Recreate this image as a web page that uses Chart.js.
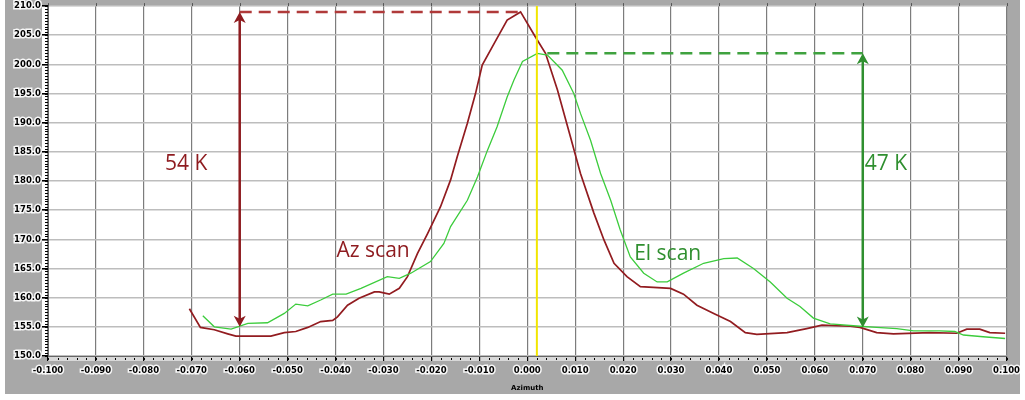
<!DOCTYPE html>
<html>
<head>
<meta charset="utf-8">
<script src="https://cdn.jsdelivr.net/npm/chart.js@4"></script>
<style>
  html, body { margin: 0; padding: 0; background: #fff; }
  canvas { display: block; }
</style>
</head>
<body>
<canvas id="Chart" width="1025" height="400"></canvas>
<script>
// azimuth scan (red)
const azX = [-0.0705, -0.0682, -0.0653, -0.0625, -0.0608, -0.0535, -0.0507, -0.0483, -0.0458, -0.0431,
  -0.0406, -0.0396, -0.0375, -0.0351, -0.0319, -0.0309, -0.0288, -0.0267, -0.0250, -0.0229,
  -0.0208, -0.0181, -0.0160, -0.0146, -0.0125, -0.0108, -0.0094, -0.0069, -0.0042, -0.0014,
  0.0017, 0.0038, 0.0063, 0.0090, 0.0111, 0.0139, 0.0160, 0.0181, 0.0208, 0.0236,
  0.0299, 0.0326, 0.0354, 0.0389, 0.0424, 0.0455, 0.0479, 0.0542, 0.0583, 0.0615,
  0.0674, 0.0694, 0.0729, 0.0764, 0.0840, 0.0896, 0.0917, 0.0944, 0.0965, 0.0997];
const azY = [158.1, 154.9, 154.5, 153.8, 153.4, 153.4, 154.0, 154.2, 154.9, 155.9,
  156.1, 156.7, 158.7, 159.9, 161.0, 161.0, 160.6, 161.6, 163.6, 167.6,
  171.0, 175.6, 180.2, 184.2, 189.9, 195.0, 199.9, 203.6, 207.6, 209.0,
  204.7, 201.9, 195.6, 187.6, 181.3, 174.5, 169.9, 165.9, 163.6, 161.9,
  161.6, 160.6, 158.7, 157.3, 155.9, 154.0, 153.7, 154.0, 154.7, 155.3,
  155.1, 154.9, 154.0, 153.8, 154.0, 153.9, 154.6, 154.6, 154.0, 153.9];

// elevation scan (green)
const elX = [-0.0677, -0.0653, -0.0618, -0.0583, -0.0542, -0.0507, -0.0483, -0.0458, -0.0431, -0.0406,
  -0.0378, -0.0347, -0.0292, -0.0267, -0.0243, -0.0202, -0.0174, -0.0160, -0.0125, -0.0104,
  -0.0083, -0.0063, -0.0042, -0.0028, -0.0010, 0.0021, 0.0042, 0.0073, 0.0097, 0.0111,
  0.0132, 0.0153, 0.0174, 0.0194, 0.0215, 0.0243, 0.0271, 0.0292, 0.0326, 0.0368,
  0.0410, 0.0438, 0.0472, 0.0507, 0.0542, 0.0569, 0.0597, 0.0632, 0.0694, 0.0729,
  0.0771, 0.0806, 0.0861, 0.0892, 0.0910, 0.0951, 0.0997];
const elY = [156.9, 155.0, 154.6, 155.6, 155.7, 157.3, 158.9, 158.6, 159.6, 160.6,
  160.6, 161.6, 163.6, 163.3, 164.2, 166.2, 169.3, 172.2, 176.7, 180.7,
  185.3, 189.3, 194.4, 197.3, 200.5, 201.9, 201.6, 199.0, 195.0, 191.6,
  187.0, 181.3, 176.7, 171.6, 167.0, 164.2, 162.7, 162.7, 164.2, 165.9,
  166.7, 166.8, 165.0, 162.7, 159.9, 158.5, 156.5, 155.5, 155.1, 154.9,
  154.7, 154.3, 154.3, 154.2, 153.6, 153.3, 153.0];

// peak-to-baseline spans written on the plot, in K
const azSpan = 54;
const elSpan = 47;
const azArrowX = -0.060;
const elArrowX = 0.070;
const boresightX = 0.002;

const azPeak = Math.max(...azY);
const azPeakX = azX[azY.indexOf(azPeak)];
const elPeak = Math.max(...elY);
const elPeakX = elX[elY.indexOf(elPeak)];

const RED = "#8e1b1f";
const GREEN = "#2f8f2f";

function toPoints(xs, ys) {
  return xs.map((x, i) => ({ x: x, y: ys[i] }));
}

function arrowHead(ctx, x, y, dir, color) {
  // dir = -1 points up, 1 points down
  ctx.save();
  ctx.fillStyle = color;
  ctx.beginPath();
  ctx.moveTo(x, y);
  ctx.lineTo(x - 6, y - dir * 11);
  ctx.lineTo(x, y - dir * 8);
  ctx.lineTo(x + 6, y - dir * 11);
  ctx.closePath();
  ctx.fill();
  ctx.restore();
}

function spanArrow(ctx, x, yTop, yBot, color) {
  ctx.save();
  ctx.strokeStyle = color;
  ctx.lineWidth = 2.5;
  ctx.beginPath();
  ctx.moveTo(x, yTop + 6);
  ctx.lineTo(x, yBot - 6);
  ctx.stroke();
  ctx.restore();
  arrowHead(ctx, x, yTop, -1, color);
  arrowHead(ctx, x, yBot, 1, color);
}

function dashLine(ctx, x1, x2, y, color) {
  ctx.save();
  ctx.strokeStyle = color;
  ctx.lineWidth = 2.5;
  ctx.setLineDash([12, 7]);
  ctx.beginPath();
  ctx.moveTo(x1, y);
  ctx.lineTo(x2, y);
  ctx.stroke();
  ctx.restore();
}

const frame = {
  id: "frame",
  beforeDraw(chart) {
    const ctx = chart.ctx;
    const a = chart.chartArea;
    ctx.save();
    ctx.fillStyle = "#a8a8a8";
    ctx.fillRect(5, 0, 1015, 394);
    ctx.fillStyle = "#ffffff";
    ctx.fillRect(a.left, a.top, a.right - a.left, a.bottom - a.top);
    ctx.fillRect(a.left - 6, a.top, 6, a.bottom - a.top + 1);
    ctx.fillStyle = "#d8d8d8";
    ctx.fillRect(a.left, a.bottom, a.right - a.left, 5);
    ctx.restore();
  },
  afterDraw(chart) {
    const ctx = chart.ctx;
    const a = chart.chartArea;
    const xs = chart.scales.x;
    const ys = chart.scales.y;
    ctx.save();
    ctx.strokeStyle = "#000";
    ctx.lineWidth = 1;
    // minor ticks on the value axis
    for (let v = 150; v <= 210; v += 0.5) {
      const py = Math.round(ys.getPixelForValue(v)) + 0.5;
      ctx.beginPath();
      ctx.moveTo(a.left - 3, py);
      ctx.lineTo(a.left, py);
      ctx.stroke();
    }
    // minor ticks along azimuth
    for (let i = 0; i <= 100; i++) {
      const px = Math.round(xs.getPixelForValue(-0.1 + i * 0.002)) + 0.5;
      ctx.beginPath();
      ctx.moveTo(px, a.bottom + 2);
      ctx.lineTo(px, a.bottom + 4);
      ctx.stroke();
    }
    // ticks along the top edge
    ctx.strokeStyle = "#555";
    for (let i = 0; i <= 20; i++) {
      const px = Math.round(xs.getPixelForValue(-0.1 + i * 0.01)) + 0.5;
      ctx.beginPath();
      ctx.moveTo(px, a.top - 3);
      ctx.lineTo(px, a.top);
      ctx.stroke();
    }
    ctx.restore();
  },
};

const notes = {
  id: "notes",
  afterDatasetsDraw(chart) {
    const ctx = chart.ctx;
    const xs = chart.scales.x;
    const ys = chart.scales.y;
    const px = (v) => xs.getPixelForValue(v);
    const py = (v) => ys.getPixelForValue(v);

    // boresight marker
    ctx.save();
    ctx.strokeStyle = "#f2e600";
    ctx.lineWidth = 2;
    ctx.beginPath();
    ctx.moveTo(px(boresightX), chart.chartArea.top);
    ctx.lineTo(px(boresightX), chart.chartArea.bottom);
    ctx.stroke();
    ctx.restore();

    dashLine(ctx, px(azArrowX), px(azPeakX), py(azPeak), "#b03a3a");
    dashLine(ctx, px(elPeakX) + 10, px(elArrowX), py(elPeak), "#3fa23f");
    spanArrow(ctx, px(azArrowX), py(azPeak), py(azPeak - azSpan), RED);
    spanArrow(ctx, px(elArrowX), py(elPeak), py(elPeak - elSpan), GREEN);

    ctx.save();
    ctx.font = '21px "Open Sans"';
    ctx.textBaseline = "middle";
    ctx.fillStyle = RED;
    ctx.fillText(azSpan + " K", px(-0.0756), py(182.9));
    ctx.fillText("Az scan", px(-0.0398), py(168.0));
    ctx.fillStyle = GREEN;
    ctx.fillText(elSpan + " K", px(0.0704), py(182.9));
    ctx.fillText("El scan", px(0.0223), py(167.5));
    ctx.restore();
  },
};

const tickFont = { family: "DejaVu Sans", size: 8.5, weight: "bold" };

new Chart(document.querySelector("#Chart"), {
  type: "line",
  data: {
    datasets: [
      {
        label: "El scan",
        data: toPoints(elX, elY),
        borderColor: "#3ccc3c",
        borderWidth: 1.3,
        pointRadius: 0,
        tension: 0,
      },
      {
        label: "Az scan",
        data: toPoints(azX, azY),
        borderColor: "#921c20",
        borderWidth: 1.7,
        pointRadius: 0,
        tension: 0,
      },
    ],
  },
  options: {
    responsive: false,
    animation: false,
    layout: { padding: { left: 0, top: 6, right: 17, bottom: 0 } },
    plugins: { legend: { display: false }, tooltip: { enabled: false } },
    scales: {
      x: {
        type: "linear",
        min: -0.1,
        max: 0.1,
        afterFit: (scale) => { scale.height = 44; },
        ticks: {
          stepSize: 0.01,
          padding: 5,
          color: "#000",
          font: tickFont,
          textStrokeColor: "rgba(255,255,255,0.9)",
          textStrokeWidth: 3,
          maxRotation: 0,
          autoSkip: false,
          callback: (v) => (Math.abs(v) < 1e-9 ? 0 : v).toFixed(3),
        },
        grid: { color: "#7c7c7c", lineWidth: 1.2, tickLength: 5, tickColor: "#000" },
        border: { color: "#666" },
        title: {
          display: true,
          text: "Azimuth",
          color: "#000",
          font: { family: "DejaVu Sans", size: 7, weight: "bold" },
          padding: { top: 0, bottom: 8 },
        },
      },
      y: {
        min: 150,
        max: 210,
        afterFit: (scale) => { scale.width = 48; },
        ticks: {
          stepSize: 5,
          padding: 1,
          color: "#000",
          font: tickFont,
          textStrokeColor: "rgba(255,255,255,0.9)",
          textStrokeWidth: 3,
          callback: (v) => v.toFixed(1),
        },
        grid: { color: "#bdbdbd", lineWidth: 1.6, tickLength: 6, tickColor: "#000" },
        border: { color: "#666" },
      },
    },
  },
  plugins: [frame, notes],
});
</script>
</body>
</html>
